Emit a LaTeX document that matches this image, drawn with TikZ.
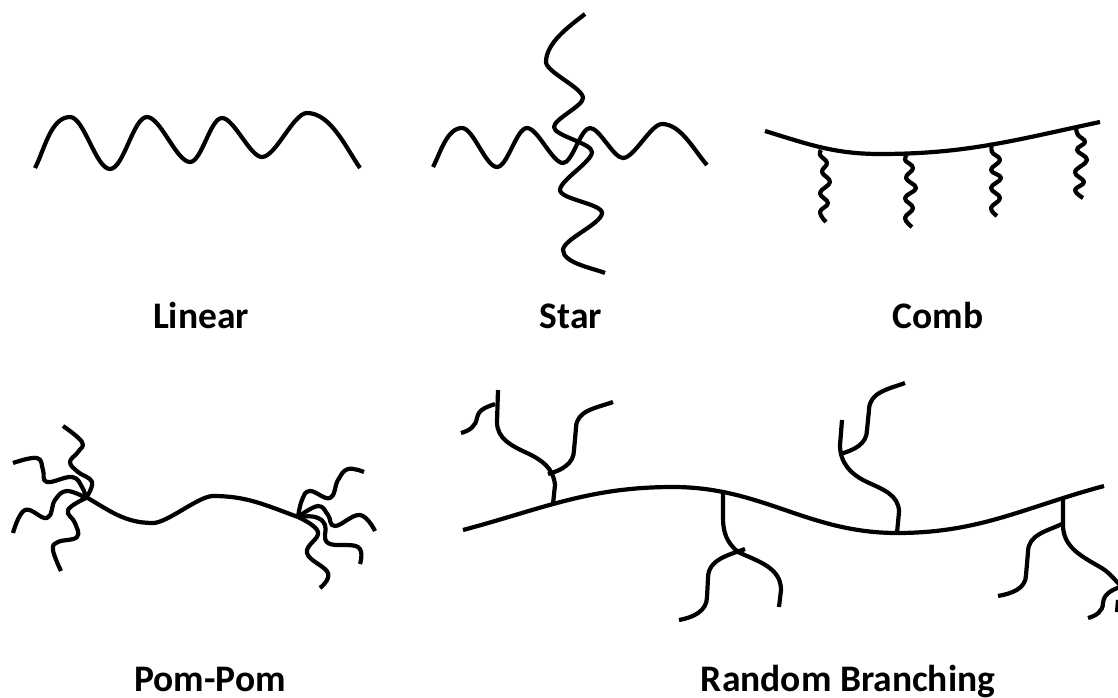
\documentclass[tikz,border=0pt]{standalone}
\usepackage{fontspec}
\setmainfont{Carlito}
\tikzset{
  chain/.style={line width=4.2pt,black,line cap=butt,line join=round},
  tag/.style={font=\fontsize{37.5}{40}\selectfont\bfseries,inner sep=0pt,anchor=base,text=black},
  hw/.style={out=0,in=180,looseness=0.55},
  vw/.style={out=-90,in=90,looseness=0.5}
}
\newcommand{\chainpath}[1]{\draw[chain] plot[smooth,tension=0.7] coordinates {#1};}
\begin{document}
\begin{tikzpicture}[x=1pt,y=-1pt]
\useasboundingbox (0,0) rectangle (1118,698);
% Linear
\draw[chain] (35,168) to[out=62,in=180,looseness=0.8] (70,117) to[hw] (110,169) to[hw] (147,117) to[hw] (190,162) to[hw] (222,118) to[hw] (262,157) to[hw] (307,113) to[out=0,in=125,looseness=0.8] (360,168);
% Star
\draw[chain] (433,167) to[out=62,in=180,looseness=0.8] (462,128) to[hw] (497,167) to[hw] (527,128) to[hw] (563,163) to[hw] (590,128) to[hw] (623,158) to[hw] (662,124) to[out=0,in=132,looseness=0.8] (707,165);
\draw[chain] (585,14) to[out=-142,in=90,looseness=0.8] (546,62) to[vw] (583,98) to[vw] (554,127) to[vw] (592,152) to[vw] (560,190) to[vw] (602,213) to[vw] (563,250) to[out=-90,in=158,looseness=0.7] (605,273);
% Comb
\draw[chain] (765,131) to[out=-17,in=180] (880,154) to[out=0,in=192] (1100,122);
\chainpath{(821,150)(820,155)(827,163)(822,172)(830,182)(820,193)(828,203)(820,212)(826,222)}
\chainpath{(907,155)(905,160)(913,168)(906,178)(916,188)(905,198)(913,208)(905,218)(912,227)}
\chainpath{(992,143)(992,152)(1000,160)(991,170)(1001,178)(991,188)(1000,198)(991,208)(997,216)}
\chainpath{(1076,128)(1078,135)(1085,142)(1077,150)(1087,160)(1075,172)(1084,182)(1075,190)(1083,198)}
% Pom-Pom
\draw[chain] (86,497) to[out=-30,in=180] (153,523) to[hw] (213,496) to[out=0,in=160] (298,517);
\chainpath{(63,426)(82,442)(78,452)(70,462)(78,472)(92,482)(86,498)}
\chainpath{(13,463)(37,458)(43,470)(47,482)(72,477)(82,487)(86,498)}
\chainpath{(13,533)(25,510)(47,518)(55,500)(67,491)(86,498)}
\chainpath{(61,571)(53,550)(58,542)(77,537)(75,523)(68,510)(86,498)}
\chainpath{(364,472)(348,469)(338,480)(330,498)(310,491)(302,500)(298,517)}
\chainpath{(375,531)(360,515)(335,526)(328,515)(318,506)(298,517)}
\chainpath{(360,564)(358,547)(328,543)(325,525)(315,517)(298,517)}
\chainpath{(320,588)(328,573)(307,553)(318,532)(298,517)}
% Random Branching
\draw[chain] (463,530) to[out=15,in=180] (673,487) to[hw,looseness=1] (897,533) to[out=0,in=195] (1104,486);
\draw[chain] (553,504) -- (555,485) to[out=95,in=-25] (527,453) to[out=155,in=-90] (497,422) -- (498,390);
\draw[chain] (548,474) to[out=15,in=-90] (574,450) -- (576,428) to[out=90,in=200] (613,402);
\draw[chain] (461,433) to[out=15,in=-100] (477,418) to[out=80,in=200] (495,404);
\draw[chain] (723,493) -- (723,518) to[out=-90,in=140] (738,552) to[out=-25,in=90] (781,590) -- (779,607);
\draw[chain] (745,549) to[out=200,in=90] (708,578) -- (707,597) to[out=-90,in=10] (679,620);
\draw[chain] (897,533) -- (899,512) to[out=90,in=-25] (867,482) to[out=155,in=-90] (840,445) -- (842,420);
\draw[chain] (840,454) to[out=15,in=-90] (867,430) -- (869,410) to[out=90,in=200] (905,383);
\draw[chain] (1063,498) -- (1063,525) to[out=-90,in=150] (1100,567) to[out=-30,in=135] (1120,585);
\draw[chain] (1062,524) to[out=205,in=90] (1028,552) -- (1026,575) to[out=-90,in=10] (998,596);
\draw[chain] (1088,618) to[out=15,in=-90] (1103,603) to[out=85,in=200] (1120,587);
\draw[chain] (1118,600) -- (1117,612);
% Labels
\node[tag] (linear) at (201,328) {Linear};
\node[tag] (star) at (571,328) {Star};
\node[tag] (comb) at (938,328) {Comb};
\node[tag] (pompom) at (210,691) {Pom-Pom};
\node[tag] (random) at (848,691) {Random Branching};
\end{tikzpicture}
\end{document}
